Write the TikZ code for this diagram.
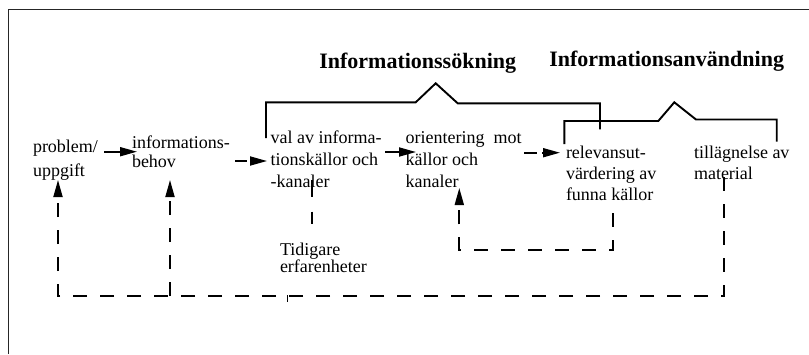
\documentclass[tikz,border=0pt]{standalone}
\usepackage{fontspec}
\setmainfont{Liberation Serif}
\usetikzlibrary{arrows.meta}
\newcommand\mlines[2]{\fontsize{18}{#1}\selectfont\begin{tabular}[t]{@{}l@{}}#2\end{tabular}}
\begin{document}
\begin{tikzpicture}[x=1pt,y=-1pt,
  txt/.style={anchor=base west,inner sep=0pt,outer sep=0pt},
  head/.style={anchor=base west,inner sep=0pt,outer sep=0pt,font=\fontsize{22}{26}\selectfont\bfseries},
  tip/.style={-{Triangle[length=17pt,width=9pt]}},
  flow/.style={line width=1.8pt,tip},
  dashflow/.style={line width=1.8pt,dash pattern=on 14pt off 13pt},
  brace/.style={line width=1.9pt,line join=miter},
  frame/.style={line width=1pt,black!85}]
\useasboundingbox (0,0) rectangle (809,354);
% frame
\draw[frame] (8.5,354) -- (8.5,9) -- (809,9);
% headings
\node[head] (h1) at (319.3,68) {Informationssökning};
\node[head] (h2) at (549.3,66.5) {Informationsanvändning};
% text nodes
\node[txt] (p)   at (33,152)    {\mlines{24}{problem/\\uppgift}};
\node[txt] (ib)  at (132,148)   {\mlines{19.5}{informations-\\behov}};
\node[txt] (val) at (270.7,143.5) {\mlines{22}{val av informa-\\tionskällor och\\-kanaler}};
\node[txt] (ori) at (405.7,143.5) {\mlines{22}{orientering\ \ mot\\källor och\\kanaler}};
\node[txt] (rel) at (566,158)   {\mlines{21}{relevansut-\\värdering av\\funna källor}};
\node[txt] (til) at (694,158)   {\mlines{21}{tillägnelse av\\material}};
\node[txt] (tid) at (280,255)   {\mlines{17}{Tidigare\\erfarenheter}};
% braces
\draw[brace] (266,138) -- (266,102.3) -- (415.7,102.3) -- (435.7,83.3) -- (457.7,103.3) -- (600,103.3) -- (600,129.3);
\draw[brace] (564.3,144) -- (564.3,121) -- (658.3,121) -- (674.3,102.3) -- (696,119.5) -- (776.7,119.5) -- (776.7,141.7);
% connector end points
\coordinate (a1s) at (104,151.7);  \coordinate (a1e) at (137,151.7);
\coordinate (a2s) at (235,161);    \coordinate (a2e) at (267,161);
\coordinate (a3s) at (385,152);    \coordinate (a3e) at (416,152);
\coordinate (a4s) at (524,152.7);  \coordinate (a4e) at (560,152.7);
\coordinate (tilb) at (724,177);
\coordinate (br) at (724,296);
\coordinate (bl) at (58,296);
\coordinate (pin) at (58,180);
\coordinate (bm) at (170,296);
\coordinate (ibin) at (170,180);
\coordinate (relb) at (612.7,213);
\coordinate (ir) at (612.7,250);
\coordinate (il) at (459.3,250);
\coordinate (oriin) at (459.3,188);
\coordinate (valb) at (311.7,180);
\coordinate (tidt) at (311.7,224);
\coordinate (tk1) at (287,295);
\coordinate (tk2) at (287,302);
% horizontal arrows
\draw[flow] (a1s) -- (a1e);
\draw[flow,dash pattern=on 12pt off 4pt] (a2s) -- (a2e);
\draw[flow] (a3s) -- (a3e);
\draw[flow,dash pattern=on 13pt off 5pt] (a4s) -- (a4e);
% feedback loops
\draw[dashflow,tip] (tilb) -- (br) -- (bl) -- (pin);
\draw[dashflow,tip] (bm) -- (ibin);
\draw[dashflow,tip] (relb) -- (ir) -- (il) -- (oriin);
\draw[line width=1.8pt,dash pattern=on 17pt off 14.5pt] (valb) -- (tidt);
\draw[line width=0.8pt] (tk1) -- (tk2);
\end{tikzpicture}
\end{document}
